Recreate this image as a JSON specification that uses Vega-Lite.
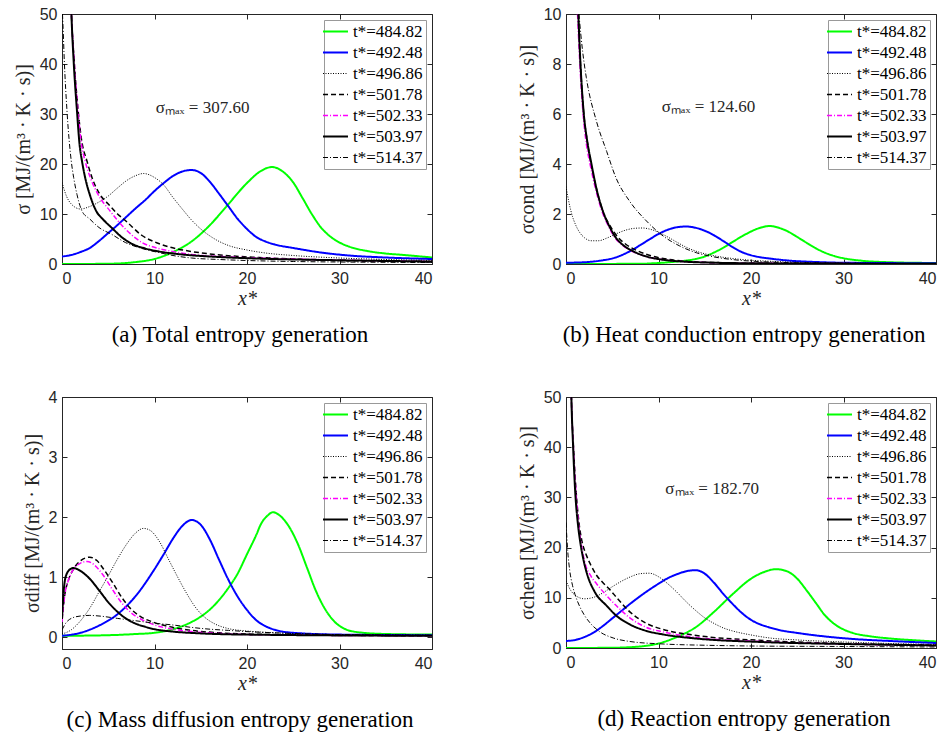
{
  "$schema": "https://vega.github.io/schema/vega-lite/v6.json",
  "padding": {"left": 12, "top": 5, "right": 6, "bottom": 5},
  "config": {
    "view": {"stroke": "#262626", "strokeWidth": 1},
    "font": "Liberation Serif",
    "axis": {"labelFont": "Liberation Sans", "labelFontSize": 16, "labelColor": "#262626", "domainColor": "#262626", "tickColor": "#262626", "tickSize": -5, "grid": false, "titleFont": "Liberation Serif", "titleFontWeight": "normal", "titleColor": "#262626", "titleFontSize": 20},
    "axisX": {"labelPadding": 11, "titlePadding": 2},
    "axisY": {"labelPadding": 10, "titlePadding": 6},
    "legend": {"orient": "top-right", "offset": 6, "padding": 3, "strokeColor": "#999999", "fillColor": "#ffffff", "labelFont": "Liberation Serif", "labelFontSize": 17, "labelColor": "#000000", "symbolType": "M-2,0H2", "symbolSize": 156, "labelOffset": 9, "rowPadding": 3, "labelLimit": 200},
    "title": {"font": "Liberation Serif", "fontSize": 23, "fontWeight": "normal", "color": "#000000", "orient": "bottom", "anchor": "middle", "frame": "group", "offset": 16, "dx": -7},
    "line": {"interpolate": "monotone"},
    "text": {"font": "Liberation Serif", "fontSize": 17, "color": "#262626"}
  },
  "datasets": {
    "a": [
      {"t":484.82,"x":0,"y":0},{"t":484.82,"x":4,"y":0.03},{"t":484.82,"x":6,"y":0.1},{"t":484.82,"x":8,"y":0.4},{"t":484.82,"x":10,"y":1.0},{"t":484.82,"x":12,"y":2.4},{"t":484.82,"x":14,"y":4.5},{"t":484.82,"x":16,"y":7.8},{"t":484.82,"x":18,"y":12},{"t":484.82,"x":20,"y":16.2},{"t":484.82,"x":21.5,"y":18.6},{"t":484.82,"x":22.7,"y":19.4},{"t":484.82,"x":24,"y":18.3},{"t":484.82,"x":25,"y":16.3},{"t":484.82,"x":26,"y":13.2},{"t":484.82,"x":27,"y":10.0},{"t":484.82,"x":28,"y":7.3},{"t":484.82,"x":29,"y":5.5},{"t":484.82,"x":30,"y":4.3},{"t":484.82,"x":31,"y":3.5},{"t":484.82,"x":33,"y":2.6},{"t":484.82,"x":35,"y":2.1},{"t":484.82,"x":37,"y":1.8},{"t":484.82,"x":40,"y":1.3},
      {"t":492.48,"x":0,"y":1.5},{"t":492.48,"x":1,"y":1.8},{"t":492.48,"x":2,"y":2.4},{"t":492.48,"x":3,"y":3.2},{"t":492.48,"x":4,"y":4.6},{"t":492.48,"x":5,"y":6.2},{"t":492.48,"x":6,"y":7.8},{"t":492.48,"x":7,"y":9.5},{"t":492.48,"x":8,"y":11.2},{"t":492.48,"x":9,"y":12.8},{"t":492.48,"x":10,"y":14.6},{"t":492.48,"x":11,"y":16.2},{"t":492.48,"x":12,"y":17.6},{"t":492.48,"x":13,"y":18.5},{"t":492.48,"x":14,"y":18.8},{"t":492.48,"x":15,"y":18.2},{"t":492.48,"x":16,"y":16.4},{"t":492.48,"x":17,"y":14.0},{"t":492.48,"x":18,"y":11.5},{"t":492.48,"x":19,"y":9.0},{"t":492.48,"x":20,"y":7.0},{"t":492.48,"x":21,"y":5.4},{"t":492.48,"x":22,"y":4.5},{"t":492.48,"x":23,"y":3.9},{"t":492.48,"x":25,"y":3.2},{"t":492.48,"x":28,"y":2.3},{"t":492.48,"x":31,"y":1.7},{"t":492.48,"x":35,"y":1.3},{"t":492.48,"x":40,"y":1.0},
      {"t":496.86,"x":0,"y":16.3},{"t":496.86,"x":0.5,"y":13.5},{"t":496.86,"x":1,"y":12},{"t":496.86,"x":2,"y":11},{"t":496.86,"x":3,"y":11.5},{"t":496.86,"x":4,"y":12.4},{"t":496.86,"x":5,"y":13.6},{"t":496.86,"x":6,"y":15.2},{"t":496.86,"x":7,"y":16.7},{"t":496.86,"x":8,"y":17.7},{"t":496.86,"x":8.8,"y":18.1},{"t":496.86,"x":10,"y":17.3},{"t":496.86,"x":11,"y":15.8},{"t":496.86,"x":12,"y":13.3},{"t":496.86,"x":13,"y":11},{"t":496.86,"x":14,"y":8.8},{"t":496.86,"x":15,"y":7.0},{"t":496.86,"x":16,"y":5.6},{"t":496.86,"x":17,"y":4.5},{"t":496.86,"x":18,"y":3.7},{"t":496.86,"x":20,"y":2.8},{"t":496.86,"x":22,"y":2.2},{"t":496.86,"x":25,"y":1.7},{"t":496.86,"x":30,"y":1.2},{"t":496.86,"x":35,"y":0.9},{"t":496.86,"x":40,"y":0.7},
      {"t":501.78,"x":0,"y":280},{"t":501.78,"x":0.5,"y":108},{"t":501.78,"x":0.8,"y":64},{"t":501.78,"x":1.0,"y":51},{"t":501.78,"x":1.3,"y":41},{"t":501.78,"x":1.73,"y":31},{"t":501.78,"x":2.1,"y":25},{"t":501.78,"x":2.7,"y":20.6},{"t":501.78,"x":3.24,"y":17.3},{"t":501.78,"x":4.1,"y":13.9},{"t":501.78,"x":5.0,"y":12},{"t":501.78,"x":6.0,"y":10},{"t":501.78,"x":6.85,"y":8.7},{"t":501.78,"x":8.65,"y":5.7},{"t":501.78,"x":10.45,"y":4.1},{"t":501.78,"x":12.25,"y":3.1},{"t":501.78,"x":14,"y":2.5},{"t":501.78,"x":17.7,"y":1.7},{"t":501.78,"x":21.3,"y":1.3},{"t":501.78,"x":25,"y":1.0},{"t":501.78,"x":30,"y":0.7},{"t":501.78,"x":35,"y":0.55},{"t":501.78,"x":40,"y":0.4},
      {"t":502.33,"x":0,"y":250},{"t":502.33,"x":0.5,"y":105},{"t":502.33,"x":0.8,"y":63},{"t":502.33,"x":1.0,"y":51},{"t":502.33,"x":1.3,"y":41},{"t":502.33,"x":1.73,"y":30.6},{"t":502.33,"x":2.1,"y":24},{"t":502.33,"x":2.5,"y":20.6},{"t":502.33,"x":3.06,"y":17.3},{"t":502.33,"x":3.9,"y":13.9},{"t":502.33,"x":5.2,"y":10.6},{"t":502.33,"x":6.85,"y":7.0},{"t":502.33,"x":8.65,"y":4.3},{"t":502.33,"x":10.45,"y":3.1},{"t":502.33,"x":12.3,"y":2.4},{"t":502.33,"x":14,"y":1.9},{"t":502.33,"x":17,"y":1.5},{"t":502.33,"x":21,"y":1.2},{"t":502.33,"x":30,"y":0.8},{"t":502.33,"x":40,"y":0.5},
      {"t":503.97,"x":0,"y":307.6},{"t":503.97,"x":0.5,"y":110},{"t":503.97,"x":0.8,"y":65},{"t":503.97,"x":1.0,"y":51},{"t":503.97,"x":1.26,"y":40.6},{"t":503.97,"x":1.62,"y":30.6},{"t":503.97,"x":1.9,"y":23.9},{"t":503.97,"x":2.16,"y":20.6},{"t":503.97,"x":2.5,"y":17.3},{"t":503.97,"x":3.0,"y":13.9},{"t":503.97,"x":3.7,"y":10.6},{"t":503.97,"x":4.5,"y":8.8},{"t":503.97,"x":5.4,"y":7.2},{"t":503.97,"x":6.5,"y":5.3},{"t":503.97,"x":7.6,"y":4.0},{"t":503.97,"x":9,"y":3.1},{"t":503.97,"x":10.5,"y":2.5},{"t":503.97,"x":13,"y":1.9},{"t":503.97,"x":16,"y":1.5},{"t":503.97,"x":21,"y":1.1},{"t":503.97,"x":30,"y":0.75},{"t":503.97,"x":40,"y":0.5},
      {"t":514.37,"x":0,"y":52},{"t":514.37,"x":0.1,"y":48},{"t":514.37,"x":0.25,"y":40.6},{"t":514.37,"x":0.54,"y":30.6},{"t":514.37,"x":1.0,"y":20.6},{"t":514.37,"x":1.26,"y":17.3},{"t":514.37,"x":1.62,"y":13.9},{"t":514.37,"x":2.16,"y":10.6},{"t":514.37,"x":3,"y":9.0},{"t":514.37,"x":4,"y":7.3},{"t":514.37,"x":5.4,"y":5.9},{"t":514.37,"x":6.85,"y":4.3},{"t":514.37,"x":8.65,"y":3.1},{"t":514.37,"x":10.45,"y":2.3},{"t":514.37,"x":12.3,"y":1.6},{"t":514.37,"x":14,"y":1.2},{"t":514.37,"x":17,"y":0.9},{"t":514.37,"x":20,"y":0.7},{"t":514.37,"x":25,"y":0.5},{"t":514.37,"x":30,"y":0.4},{"t":514.37,"x":40,"y":0.3}
    ],
    "b": [
      {"t":484.82,"x":0,"y":0},{"t":484.82,"x":8,"y":0.01},{"t":484.82,"x":10,"y":0.04},{"t":484.82,"x":12,"y":0.1},{"t":484.82,"x":14,"y":0.2},{"t":484.82,"x":15,"y":0.3},{"t":484.82,"x":16,"y":0.46},{"t":484.82,"x":17,"y":0.65},{"t":484.82,"x":18,"y":0.88},{"t":484.82,"x":19,"y":1.1},{"t":484.82,"x":20,"y":1.3},{"t":484.82,"x":21,"y":1.45},{"t":484.82,"x":22,"y":1.52},{"t":484.82,"x":23,"y":1.45},{"t":484.82,"x":24,"y":1.3},{"t":484.82,"x":25,"y":1.08},{"t":484.82,"x":26,"y":0.85},{"t":484.82,"x":27,"y":0.63},{"t":484.82,"x":28,"y":0.45},{"t":484.82,"x":29,"y":0.32},{"t":484.82,"x":30,"y":0.23},{"t":484.82,"x":32,"y":0.13},{"t":484.82,"x":35,"y":0.07},{"t":484.82,"x":40,"y":0.04},
      {"t":492.48,"x":0,"y":0.05},{"t":492.48,"x":2,"y":0.07},{"t":492.48,"x":4,"y":0.15},{"t":492.48,"x":5,"y":0.22},{"t":492.48,"x":6,"y":0.35},{"t":492.48,"x":7,"y":0.53},{"t":492.48,"x":8,"y":0.75},{"t":492.48,"x":9,"y":0.98},{"t":492.48,"x":10,"y":1.2},{"t":492.48,"x":11,"y":1.37},{"t":492.48,"x":12,"y":1.47},{"t":492.48,"x":13,"y":1.5},{"t":492.48,"x":14,"y":1.45},{"t":492.48,"x":15,"y":1.33},{"t":492.48,"x":16,"y":1.15},{"t":492.48,"x":17,"y":0.92},{"t":492.48,"x":18,"y":0.68},{"t":492.48,"x":19,"y":0.48},{"t":492.48,"x":20,"y":0.35},{"t":492.48,"x":21,"y":0.27},{"t":492.48,"x":22,"y":0.22},{"t":492.48,"x":24,"y":0.14},{"t":492.48,"x":27,"y":0.08},{"t":492.48,"x":30,"y":0.05},{"t":492.48,"x":40,"y":0.03},
      {"t":496.86,"x":0,"y":3.1},{"t":496.86,"x":0.3,"y":2.5},{"t":496.86,"x":0.7,"y":1.9},{"t":496.86,"x":1,"y":1.6},{"t":496.86,"x":1.5,"y":1.25},{"t":496.86,"x":2,"y":1.05},{"t":496.86,"x":2.7,"y":0.93},{"t":496.86,"x":3.5,"y":0.93},{"t":496.86,"x":4.5,"y":1.05},{"t":496.86,"x":5.5,"y":1.22},{"t":496.86,"x":6.5,"y":1.36},{"t":496.86,"x":7.5,"y":1.43},{"t":496.86,"x":8.3,"y":1.44},{"t":496.86,"x":9,"y":1.4},{"t":496.86,"x":10,"y":1.27},{"t":496.86,"x":11,"y":1.08},{"t":496.86,"x":12,"y":0.87},{"t":496.86,"x":13,"y":0.67},{"t":496.86,"x":14,"y":0.52},{"t":496.86,"x":15,"y":0.41},{"t":496.86,"x":16,"y":0.33},{"t":496.86,"x":18,"y":0.22},{"t":496.86,"x":20,"y":0.15},{"t":496.86,"x":22,"y":0.11},{"t":496.86,"x":25,"y":0.07},{"t":496.86,"x":30,"y":0.04},{"t":496.86,"x":40,"y":0.02},
      {"t":501.78,"x":0,"y":115},{"t":501.78,"x":0.5,"y":33},{"t":501.78,"x":1.0,"y":13},{"t":501.78,"x":1.3,"y":10.1},{"t":501.78,"x":1.55,"y":8.1},{"t":501.78,"x":1.9,"y":6.1},{"t":501.78,"x":2.3,"y":4.9},{"t":501.78,"x":2.7,"y":4.0},{"t":501.78,"x":3.3,"y":3.0},{"t":501.78,"x":4.0,"y":2.1},{"t":501.78,"x":4.8,"y":1.5},{"t":501.78,"x":5.6,"y":1.08},{"t":501.78,"x":6.5,"y":0.78},{"t":501.78,"x":7.6,"y":0.55},{"t":501.78,"x":9,"y":0.35},{"t":501.78,"x":10.5,"y":0.22},{"t":501.78,"x":13,"y":0.11},{"t":501.78,"x":16,"y":0.06},{"t":501.78,"x":20,"y":0.03},{"t":501.78,"x":40,"y":0.01},
      {"t":502.33,"x":0,"y":110},{"t":502.33,"x":0.5,"y":32},{"t":502.33,"x":1.0,"y":12.5},{"t":502.33,"x":1.25,"y":10},{"t":502.33,"x":1.5,"y":8},{"t":502.33,"x":1.85,"y":6},{"t":502.33,"x":2.2,"y":4.8},{"t":502.33,"x":2.6,"y":4.0},{"t":502.33,"x":3.2,"y":3.0},{"t":502.33,"x":3.9,"y":2.1},{"t":502.33,"x":4.6,"y":1.5},{"t":502.33,"x":5.3,"y":1.05},{"t":502.33,"x":6.1,"y":0.75},{"t":502.33,"x":7.2,"y":0.5},{"t":502.33,"x":8.7,"y":0.3},{"t":502.33,"x":10.5,"y":0.17},{"t":502.33,"x":13,"y":0.09},{"t":502.33,"x":16,"y":0.05},{"t":502.33,"x":20,"y":0.03},{"t":502.33,"x":40,"y":0.01},
      {"t":503.97,"x":0,"y":124.6},{"t":503.97,"x":0.5,"y":35},{"t":503.97,"x":1.0,"y":13.5},{"t":503.97,"x":1.3,"y":10.3},{"t":503.97,"x":1.55,"y":8.1},{"t":503.97,"x":1.9,"y":6.1},{"t":503.97,"x":2.3,"y":4.9},{"t":503.97,"x":2.7,"y":4.1},{"t":503.97,"x":3.3,"y":3.0},{"t":503.97,"x":4.0,"y":2.1},{"t":503.97,"x":4.7,"y":1.5},{"t":503.97,"x":5.4,"y":1.05},{"t":503.97,"x":6.2,"y":0.75},{"t":503.97,"x":7.2,"y":0.52},{"t":503.97,"x":8.7,"y":0.3},{"t":503.97,"x":10.5,"y":0.17},{"t":503.97,"x":13,"y":0.09},{"t":503.97,"x":16,"y":0.05},{"t":503.97,"x":20,"y":0.03},{"t":503.97,"x":30,"y":0.015},{"t":503.97,"x":40,"y":0.01},
      {"t":514.37,"x":0,"y":30},{"t":514.37,"x":0.5,"y":18},{"t":514.37,"x":1.0,"y":12},{"t":514.37,"x":1.4,"y":10},{"t":514.37,"x":1.8,"y":8.5},{"t":514.37,"x":2.2,"y":7.45},{"t":514.37,"x":3.3,"y":5.7},{"t":514.37,"x":4.4,"y":4.5},{"t":514.37,"x":5.4,"y":3.45},{"t":514.37,"x":6.9,"y":2.5},{"t":514.37,"x":8.7,"y":1.72},{"t":514.37,"x":10.5,"y":1.12},{"t":514.37,"x":12.3,"y":0.72},{"t":514.37,"x":14.1,"y":0.45},{"t":514.37,"x":15.9,"y":0.29},{"t":514.37,"x":17.7,"y":0.19},{"t":514.37,"x":21.3,"y":0.09},{"t":514.37,"x":25,"y":0.05},{"t":514.37,"x":30,"y":0.03},{"t":514.37,"x":40,"y":0.01}
    ],
    "c": [
      {"t":484.82,"x":0,"y":0.02},{"t":484.82,"x":5,"y":0.03},{"t":484.82,"x":8,"y":0.05},{"t":484.82,"x":10,"y":0.07},{"t":484.82,"x":12,"y":0.13},{"t":484.82,"x":14,"y":0.25},{"t":484.82,"x":15,"y":0.34},{"t":484.82,"x":16,"y":0.46},{"t":484.82,"x":17,"y":0.62},{"t":484.82,"x":18,"y":0.82},{"t":484.82,"x":19,"y":1.06},{"t":484.82,"x":20,"y":1.38},{"t":484.82,"x":21,"y":1.7},{"t":484.82,"x":21.5,"y":1.88},{"t":484.82,"x":22.2,"y":2.02},{"t":484.82,"x":22.8,"y":2.08},{"t":484.82,"x":23.5,"y":2.03},{"t":484.82,"x":24.5,"y":1.85},{"t":484.82,"x":25.5,"y":1.55},{"t":484.82,"x":26.5,"y":1.15},{"t":484.82,"x":27.5,"y":0.75},{"t":484.82,"x":28.5,"y":0.45},{"t":484.82,"x":29.5,"y":0.25},{"t":484.82,"x":30.5,"y":0.14},{"t":484.82,"x":32,"y":0.08},{"t":484.82,"x":35,"y":0.05},{"t":484.82,"x":40,"y":0.04},
      {"t":492.48,"x":0,"y":0.02},{"t":492.48,"x":2,"y":0.07},{"t":492.48,"x":4,"y":0.19},{"t":492.48,"x":6,"y":0.38},{"t":492.48,"x":8,"y":0.69},{"t":492.48,"x":10,"y":1.13},{"t":492.48,"x":11,"y":1.38},{"t":492.48,"x":12,"y":1.64},{"t":492.48,"x":13,"y":1.85},{"t":492.48,"x":14,"y":1.95},{"t":492.48,"x":15,"y":1.87},{"t":492.48,"x":16,"y":1.62},{"t":492.48,"x":17,"y":1.28},{"t":492.48,"x":18,"y":0.95},{"t":492.48,"x":19,"y":0.67},{"t":492.48,"x":20,"y":0.45},{"t":492.48,"x":21,"y":0.28},{"t":492.48,"x":22,"y":0.18},{"t":492.48,"x":23,"y":0.12},{"t":492.48,"x":25,"y":0.07},{"t":492.48,"x":30,"y":0.04},{"t":492.48,"x":40,"y":0.03},
      {"t":496.86,"x":0,"y":0.05},{"t":496.86,"x":1,"y":0.12},{"t":496.86,"x":2,"y":0.27},{"t":496.86,"x":3,"y":0.48},{"t":496.86,"x":4,"y":0.75},{"t":496.86,"x":5,"y":1.02},{"t":496.86,"x":6,"y":1.3},{"t":496.86,"x":7,"y":1.55},{"t":496.86,"x":8,"y":1.74},{"t":496.86,"x":8.8,"y":1.81},{"t":496.86,"x":9.5,"y":1.78},{"t":496.86,"x":10.5,"y":1.6},{"t":496.86,"x":11.5,"y":1.3},{"t":496.86,"x":12.5,"y":1.0},{"t":496.86,"x":13.5,"y":0.72},{"t":496.86,"x":14.5,"y":0.48},{"t":496.86,"x":15.5,"y":0.32},{"t":496.86,"x":16.5,"y":0.22},{"t":496.86,"x":18,"y":0.14},{"t":496.86,"x":20,"y":0.1},{"t":496.86,"x":23,"y":0.07},{"t":496.86,"x":30,"y":0.04},{"t":496.86,"x":40,"y":0.03},
      {"t":501.78,"x":0,"y":0.28},{"t":501.78,"x":0.3,"y":0.7},{"t":501.78,"x":0.7,"y":0.95},{"t":501.78,"x":1.2,"y":1.12},{"t":501.78,"x":2,"y":1.27},{"t":501.78,"x":3,"y":1.33},{"t":501.78,"x":3.8,"y":1.27},{"t":501.78,"x":4.5,"y":1.13},{"t":501.78,"x":5.5,"y":0.9},{"t":501.78,"x":6.5,"y":0.65},{"t":501.78,"x":7.5,"y":0.46},{"t":501.78,"x":8.5,"y":0.34},{"t":501.78,"x":10,"y":0.24},{"t":501.78,"x":12,"y":0.16},{"t":501.78,"x":14,"y":0.11},{"t":501.78,"x":17,"y":0.07},{"t":501.78,"x":20,"y":0.05},{"t":501.78,"x":30,"y":0.03},{"t":501.78,"x":40,"y":0.02},
      {"t":502.33,"x":0,"y":0.25},{"t":502.33,"x":0.3,"y":0.7},{"t":502.33,"x":0.7,"y":0.95},{"t":502.33,"x":1.2,"y":1.12},{"t":502.33,"x":2,"y":1.23},{"t":502.33,"x":2.7,"y":1.26},{"t":502.33,"x":3.5,"y":1.2},{"t":502.33,"x":4.5,"y":1.02},{"t":502.33,"x":5.5,"y":0.78},{"t":502.33,"x":6.5,"y":0.56},{"t":502.33,"x":7.5,"y":0.4},{"t":502.33,"x":8.5,"y":0.3},{"t":502.33,"x":10,"y":0.2},{"t":502.33,"x":12,"y":0.13},{"t":502.33,"x":14,"y":0.09},{"t":502.33,"x":17,"y":0.06},{"t":502.33,"x":20,"y":0.04},{"t":502.33,"x":40,"y":0.02},
      {"t":503.97,"x":0,"y":0.3},{"t":503.97,"x":0.2,"y":0.8},{"t":503.97,"x":0.5,"y":1.05},{"t":503.97,"x":1,"y":1.14},{"t":503.97,"x":1.2,"y":1.15},{"t":503.97,"x":2,"y":1.1},{"t":503.97,"x":3,"y":0.97},{"t":503.97,"x":4,"y":0.78},{"t":503.97,"x":5,"y":0.58},{"t":503.97,"x":6,"y":0.42},{"t":503.97,"x":7,"y":0.3},{"t":503.97,"x":8,"y":0.22},{"t":503.97,"x":9,"y":0.17},{"t":503.97,"x":10,"y":0.13},{"t":503.97,"x":12,"y":0.09},{"t":503.97,"x":15,"y":0.06},{"t":503.97,"x":20,"y":0.04},{"t":503.97,"x":40,"y":0.02},
      {"t":514.37,"x":0,"y":0.12},{"t":514.37,"x":0.5,"y":0.25},{"t":514.37,"x":1,"y":0.31},{"t":514.37,"x":2,"y":0.35},{"t":514.37,"x":3,"y":0.36},{"t":514.37,"x":4,"y":0.35},{"t":514.37,"x":6,"y":0.31},{"t":514.37,"x":8,"y":0.27},{"t":514.37,"x":10,"y":0.23},{"t":514.37,"x":12,"y":0.2},{"t":514.37,"x":14,"y":0.16},{"t":514.37,"x":16,"y":0.13},{"t":514.37,"x":18,"y":0.11},{"t":514.37,"x":20,"y":0.09},{"t":514.37,"x":23,"y":0.07},{"t":514.37,"x":27,"y":0.05},{"t":514.37,"x":30,"y":0.04},{"t":514.37,"x":40,"y":0.03}
    ],
    "d": [
      {"t":484.82,"x":0,"y":0},{"t":484.82,"x":5,"y":0.05},{"t":484.82,"x":8,"y":0.3},{"t":484.82,"x":10,"y":0.9},{"t":484.82,"x":12,"y":2.2},{"t":484.82,"x":14,"y":4.1},{"t":484.82,"x":16,"y":7.2},{"t":484.82,"x":18,"y":10.7},{"t":484.82,"x":20,"y":13.8},{"t":484.82,"x":21.5,"y":15.2},{"t":484.82,"x":22.7,"y":15.7},{"t":484.82,"x":24,"y":15.2},{"t":484.82,"x":25,"y":13.8},{"t":484.82,"x":26,"y":11.5},{"t":484.82,"x":27,"y":9.0},{"t":484.82,"x":28,"y":6.5},{"t":484.82,"x":29,"y":4.8},{"t":484.82,"x":30,"y":3.7},{"t":484.82,"x":31,"y":3.0},{"t":484.82,"x":33,"y":2.3},{"t":484.82,"x":35,"y":1.9},{"t":484.82,"x":38,"y":1.5},{"t":484.82,"x":40,"y":1.3},
      {"t":492.48,"x":0,"y":1.4},{"t":492.48,"x":1,"y":1.6},{"t":492.48,"x":2,"y":2.2},{"t":492.48,"x":3,"y":3.1},{"t":492.48,"x":4,"y":4.4},{"t":492.48,"x":5,"y":5.9},{"t":492.48,"x":6,"y":7.4},{"t":492.48,"x":7,"y":8.9},{"t":492.48,"x":8,"y":10.3},{"t":492.48,"x":9,"y":11.6},{"t":492.48,"x":10,"y":12.8},{"t":492.48,"x":11,"y":13.9},{"t":492.48,"x":12,"y":14.7},{"t":492.48,"x":13,"y":15.3},{"t":492.48,"x":14,"y":15.5},{"t":492.48,"x":15,"y":14.8},{"t":492.48,"x":16,"y":13.0},{"t":492.48,"x":17,"y":10.8},{"t":492.48,"x":18,"y":8.8},{"t":492.48,"x":19,"y":7.0},{"t":492.48,"x":20,"y":5.6},{"t":492.48,"x":21,"y":4.7},{"t":492.48,"x":22,"y":4.1},{"t":492.48,"x":23,"y":3.6},{"t":492.48,"x":25,"y":3.0},{"t":492.48,"x":28,"y":2.3},{"t":492.48,"x":31,"y":1.8},{"t":492.48,"x":35,"y":1.4},{"t":492.48,"x":40,"y":1.0},
      {"t":496.86,"x":0,"y":13.4},{"t":496.86,"x":0.5,"y":11.5},{"t":496.86,"x":1,"y":10.5},{"t":496.86,"x":2,"y":9.8},{"t":496.86,"x":3,"y":10.1},{"t":496.86,"x":4,"y":11.0},{"t":496.86,"x":5,"y":12.2},{"t":496.86,"x":6,"y":13.3},{"t":496.86,"x":7,"y":14.2},{"t":496.86,"x":8,"y":14.8},{"t":496.86,"x":9,"y":14.9},{"t":496.86,"x":10,"y":14.2},{"t":496.86,"x":11,"y":12.8},{"t":496.86,"x":12,"y":11.1},{"t":496.86,"x":13,"y":9.2},{"t":496.86,"x":14,"y":7.5},{"t":496.86,"x":15,"y":6.0},{"t":496.86,"x":16,"y":4.9},{"t":496.86,"x":17,"y":4.0},{"t":496.86,"x":18,"y":3.4},{"t":496.86,"x":20,"y":2.6},{"t":496.86,"x":22,"y":2.0},{"t":496.86,"x":25,"y":1.6},{"t":496.86,"x":30,"y":1.2},{"t":496.86,"x":35,"y":0.9},{"t":496.86,"x":40,"y":0.7},
      {"t":501.78,"x":0,"y":170},{"t":501.78,"x":0.3,"y":82},{"t":501.78,"x":0.58,"y":50},{"t":501.78,"x":0.8,"y":40.5},{"t":501.78,"x":1.1,"y":31},{"t":501.78,"x":1.4,"y":25},{"t":501.78,"x":1.7,"y":21.5},{"t":501.78,"x":2.2,"y":18.5},{"t":501.78,"x":2.74,"y":16.3},{"t":501.78,"x":3.3,"y":14.5},{"t":501.78,"x":4.0,"y":13.0},{"t":501.78,"x":4.9,"y":11.3},{"t":501.78,"x":5.4,"y":10.2},{"t":501.78,"x":6.9,"y":7.2},{"t":501.78,"x":8.7,"y":4.9},{"t":501.78,"x":10.5,"y":3.7},{"t":501.78,"x":14.1,"y":2.5},{"t":501.78,"x":21.3,"y":1.5},{"t":501.78,"x":30,"y":0.9},{"t":501.78,"x":40,"y":0.6},
      {"t":502.33,"x":0,"y":160},{"t":502.33,"x":0.3,"y":80},{"t":502.33,"x":0.58,"y":50},{"t":502.33,"x":0.8,"y":40},{"t":502.33,"x":1.1,"y":30.5},{"t":502.33,"x":1.4,"y":24},{"t":502.33,"x":1.66,"y":20.6},{"t":502.33,"x":2.0,"y":17.3},{"t":502.33,"x":2.7,"y":14.3},{"t":502.33,"x":3.3,"y":12.8},{"t":502.33,"x":4.4,"y":10.4},{"t":502.33,"x":5.4,"y":8.5},{"t":502.33,"x":6.9,"y":6.0},{"t":502.33,"x":8.7,"y":4.1},{"t":502.33,"x":10.5,"y":3.2},{"t":502.33,"x":14.1,"y":2.1},{"t":502.33,"x":21,"y":1.3},{"t":502.33,"x":30,"y":0.8},{"t":502.33,"x":40,"y":0.5},
      {"t":503.97,"x":0,"y":182.7},{"t":503.97,"x":0.3,"y":85},{"t":503.97,"x":0.58,"y":50},{"t":503.97,"x":0.76,"y":40.5},{"t":503.97,"x":1.0,"y":31},{"t":503.97,"x":1.3,"y":24.5},{"t":503.97,"x":1.55,"y":21},{"t":503.97,"x":1.84,"y":18},{"t":503.97,"x":2.27,"y":14.8},{"t":503.97,"x":3.1,"y":11.2},{"t":503.97,"x":4.4,"y":8.4},{"t":503.97,"x":5.4,"y":6.5},{"t":503.97,"x":6.9,"y":4.7},{"t":503.97,"x":8.7,"y":3.4},{"t":503.97,"x":10.5,"y":2.7},{"t":503.97,"x":14,"y":1.9},{"t":503.97,"x":21,"y":1.2},{"t":503.97,"x":30,"y":0.8},{"t":503.97,"x":40,"y":0.5},
      {"t":514.37,"x":0,"y":25},{"t":514.37,"x":0.2,"y":19},{"t":514.37,"x":0.4,"y":15.5},{"t":514.37,"x":0.7,"y":12.5},{"t":514.37,"x":1.1,"y":10},{"t":514.37,"x":1.5,"y":8.2},{"t":514.37,"x":2,"y":6.5},{"t":514.37,"x":2.6,"y":5.0},{"t":514.37,"x":3.6,"y":3.3},{"t":514.37,"x":5.1,"y":2.0},{"t":514.37,"x":6.9,"y":1.3},{"t":514.37,"x":10.5,"y":0.8},{"t":514.37,"x":15,"y":0.55},{"t":514.37,"x":20,"y":0.4},{"t":514.37,"x":30,"y":0.3},{"t":514.37,"x":40,"y":0.2}
    ]
  },
  "columns": 2,
  "spacing": {"row": 40, "column": 83},
  "resolve": {"scale": {"x": "independent", "y": "independent", "color": "independent", "strokeDash": "independent", "strokeWidth": "independent"}, "legend": {"color": "independent", "strokeDash": "independent", "strokeWidth": "independent"}},
  "concat": [
    {
      "width": 370, "height": 250,
      "title": {"text": "(a) Total entropy generation"},
      "resolve": {"axis": {"x": "independent", "y": "independent"}},
      "layer": [
        {
          "data": {"name": "a"},
          "mark": {"type": "line", "clip": true},
          "encoding": {
            "x": {"field": "x", "type": "quantitative", "scale": {"domain": [0, 40], "nice": false}, "axis": {"orient": "bottom", "values": [0, 10, 20, 30, 40], "title": "x*", "titleFontStyle": "italic"}},
            "y": {"field": "y", "type": "quantitative", "scale": {"domain": [0, 50], "nice": false}, "axis": {"orient": "left", "values": [0, 10, 20, 30, 40, 50], "title": "σ [MJ/(m³ · K · s)]"}},
            "color": {"field": "t", "type": "nominal", "scale": {"domain": [484.82, 492.48, 496.86, 501.78, 502.33, 503.97, 514.37], "range": ["#00ff00", "#0000ff", "#000000", "#000000", "#ff00ff", "#000000", "#000000"]}, "legend": {"title": null, "labelFont": "Liberation Serif", "labelExpr": "'t*=' + datum.label"}},
            "strokeDash": {"field": "t", "type": "nominal", "scale": {"domain": [484.82, 492.48, 496.86, 501.78, 502.33, 503.97, 514.37], "range": [[1, 0], [1, 0], [1, 1.5], [5, 3], [5, 2, 1, 2], [1, 0], [5, 2, 1, 2]]}, "legend": {"title": null, "labelFont": "Liberation Serif", "labelExpr": "'t*=' + datum.label"}},
            "strokeWidth": {"field": "t", "type": "nominal", "scale": {"type": "ordinal", "domain": [484.82, 492.48, 496.86, 501.78, 502.33, 503.97, 514.37], "range": [2, 2, 1, 1.5, 1.5, 2, 1]}, "legend": {"title": null, "labelFont": "Liberation Serif", "labelExpr": "'t*=' + datum.label"}}
          }
        },
        {
          "data": {"values": [{"x": 15.2, "y": 31.2, "label": "σₘₐₓ = 307.60"}]},
          "mark": {"type": "text"},
          "encoding": {
            "x": {"field": "x", "type": "quantitative", "scale": {"domain": [0, 40], "nice": false}, "axis": {"orient": "top", "values": [0, 10, 20, 30, 40], "labels": false, "domain": false, "title": null}},
            "y": {"field": "y", "type": "quantitative", "scale": {"domain": [0, 50], "nice": false}, "axis": {"orient": "right", "values": [0, 10, 20, 30, 40, 50], "labels": false, "domain": false, "title": null}},
            "text": {"field": "label"}
          }
        }
      ]
    },
    {
      "width": 370, "height": 250,
      "title": {"text": "(b) Heat conduction entropy generation"},
      "resolve": {"axis": {"x": "independent", "y": "independent"}},
      "layer": [
        {
          "data": {"name": "b"},
          "mark": {"type": "line", "clip": true},
          "encoding": {
            "x": {"field": "x", "type": "quantitative", "scale": {"domain": [0, 40], "nice": false}, "axis": {"orient": "bottom", "values": [0, 10, 20, 30, 40], "title": "x*", "titleFontStyle": "italic"}},
            "y": {"field": "y", "type": "quantitative", "scale": {"domain": [0, 10], "nice": false}, "axis": {"orient": "left", "values": [0, 2, 4, 6, 8, 10], "title": "σcond [MJ/(m³ · K · s)]"}},
            "color": {"field": "t", "type": "nominal", "scale": {"domain": [484.82, 492.48, 496.86, 501.78, 502.33, 503.97, 514.37], "range": ["#00ff00", "#0000ff", "#000000", "#000000", "#ff00ff", "#000000", "#000000"]}, "legend": {"title": null, "labelFont": "Liberation Serif", "labelExpr": "'t*=' + datum.label"}},
            "strokeDash": {"field": "t", "type": "nominal", "scale": {"domain": [484.82, 492.48, 496.86, 501.78, 502.33, 503.97, 514.37], "range": [[1, 0], [1, 0], [1, 1.5], [5, 3], [5, 2, 1, 2], [1, 0], [5, 2, 1, 2]]}, "legend": {"title": null, "labelFont": "Liberation Serif", "labelExpr": "'t*=' + datum.label"}},
            "strokeWidth": {"field": "t", "type": "nominal", "scale": {"type": "ordinal", "domain": [484.82, 492.48, 496.86, 501.78, 502.33, 503.97, 514.37], "range": [2, 2, 1, 1.5, 1.5, 2, 1]}, "legend": {"title": null, "labelFont": "Liberation Serif", "labelExpr": "'t*=' + datum.label"}}
          }
        },
        {
          "data": {"values": [{"x": 15.4, "y": 6.28, "label": "σₘₐₓ = 124.60"}]},
          "mark": {"type": "text"},
          "encoding": {
            "x": {"field": "x", "type": "quantitative", "scale": {"domain": [0, 40], "nice": false}, "axis": {"orient": "top", "values": [0, 10, 20, 30, 40], "labels": false, "domain": false, "title": null}},
            "y": {"field": "y", "type": "quantitative", "scale": {"domain": [0, 10], "nice": false}, "axis": {"orient": "right", "values": [0, 2, 4, 6, 8, 10], "labels": false, "domain": false, "title": null}},
            "text": {"field": "label"}
          }
        }
      ]
    },
    {
      "width": 370, "height": 252,
      "title": {"text": "(c) Mass diffusion entropy generation"},
      "resolve": {"axis": {"x": "independent", "y": "independent"}},
      "layer": [
        {
          "data": {"name": "c"},
          "mark": {"type": "line", "clip": true},
          "encoding": {
            "x": {"field": "x", "type": "quantitative", "scale": {"domain": [0, 40], "nice": false}, "axis": {"orient": "bottom", "values": [0, 10, 20, 30, 40], "title": "x*", "titleFontStyle": "italic"}},
            "y": {"field": "y", "type": "quantitative", "scale": {"domain": [-0.2, 4], "nice": false, "zero": false}, "axis": {"orient": "left", "values": [0, 1, 2, 3, 4], "title": "σdiff [MJ/(m³ · K · s)]"}},
            "color": {"field": "t", "type": "nominal", "scale": {"domain": [484.82, 492.48, 496.86, 501.78, 502.33, 503.97, 514.37], "range": ["#00ff00", "#0000ff", "#000000", "#000000", "#ff00ff", "#000000", "#000000"]}, "legend": {"title": null, "labelFont": "Liberation Serif", "labelExpr": "'t*=' + datum.label"}},
            "strokeDash": {"field": "t", "type": "nominal", "scale": {"domain": [484.82, 492.48, 496.86, 501.78, 502.33, 503.97, 514.37], "range": [[1, 0], [1, 0], [1, 1.5], [5, 3], [5, 2, 1, 2], [1, 0], [5, 2, 1, 2]]}, "legend": {"title": null, "labelFont": "Liberation Serif", "labelExpr": "'t*=' + datum.label"}},
            "strokeWidth": {"field": "t", "type": "nominal", "scale": {"type": "ordinal", "domain": [484.82, 492.48, 496.86, 501.78, 502.33, 503.97, 514.37], "range": [2, 2, 1, 1.5, 1.5, 2, 1]}, "legend": {"title": null, "labelFont": "Liberation Serif", "labelExpr": "'t*=' + datum.label"}}
          }
        },
        {
          "data": {"values": [{"x": 20, "y": 1}]},
          "mark": {"type": "point", "opacity": 0},
          "encoding": {
            "x": {"field": "x", "type": "quantitative", "scale": {"domain": [0, 40], "nice": false}, "axis": {"orient": "top", "values": [0, 10, 20, 30, 40], "labels": false, "domain": false, "title": null}},
            "y": {"field": "y", "type": "quantitative", "scale": {"domain": [-0.2, 4], "nice": false, "zero": false}, "axis": {"orient": "right", "values": [0, 1, 2, 3, 4], "labels": false, "domain": false, "title": null}}
          }
        }
      ]
    },
    {
      "width": 370, "height": 251,
      "title": {"text": "(d) Reaction entropy generation"},
      "resolve": {"axis": {"x": "independent", "y": "independent"}},
      "layer": [
        {
          "data": {"name": "d"},
          "mark": {"type": "line", "clip": true},
          "encoding": {
            "x": {"field": "x", "type": "quantitative", "scale": {"domain": [0, 40], "nice": false}, "axis": {"orient": "bottom", "values": [0, 10, 20, 30, 40], "title": "x*", "titleFontStyle": "italic"}},
            "y": {"field": "y", "type": "quantitative", "scale": {"domain": [0, 50], "nice": false}, "axis": {"orient": "left", "values": [0, 10, 20, 30, 40, 50], "title": "σchem [MJ/(m³ · K · s)]"}},
            "color": {"field": "t", "type": "nominal", "scale": {"domain": [484.82, 492.48, 496.86, 501.78, 502.33, 503.97, 514.37], "range": ["#00ff00", "#0000ff", "#000000", "#000000", "#ff00ff", "#000000", "#000000"]}, "legend": {"title": null, "labelFont": "Liberation Serif", "labelExpr": "'t*=' + datum.label"}},
            "strokeDash": {"field": "t", "type": "nominal", "scale": {"domain": [484.82, 492.48, 496.86, 501.78, 502.33, 503.97, 514.37], "range": [[1, 0], [1, 0], [1, 1.5], [5, 3], [5, 2, 1, 2], [1, 0], [5, 2, 1, 2]]}, "legend": {"title": null, "labelFont": "Liberation Serif", "labelExpr": "'t*=' + datum.label"}},
            "strokeWidth": {"field": "t", "type": "nominal", "scale": {"type": "ordinal", "domain": [484.82, 492.48, 496.86, 501.78, 502.33, 503.97, 514.37], "range": [2, 2, 1, 1.5, 1.5, 2, 1]}, "legend": {"title": null, "labelFont": "Liberation Serif", "labelExpr": "'t*=' + datum.label"}}
          }
        },
        {
          "data": {"values": [{"x": 15.8, "y": 31.7, "label": "σₘₐₓ = 182.70"}]},
          "mark": {"type": "text"},
          "encoding": {
            "x": {"field": "x", "type": "quantitative", "scale": {"domain": [0, 40], "nice": false}, "axis": {"orient": "top", "values": [0, 10, 20, 30, 40], "labels": false, "domain": false, "title": null}},
            "y": {"field": "y", "type": "quantitative", "scale": {"domain": [0, 50], "nice": false}, "axis": {"orient": "right", "values": [0, 10, 20, 30, 40, 50], "labels": false, "domain": false, "title": null}},
            "text": {"field": "label"}
          }
        }
      ]
    }
  ]
}
